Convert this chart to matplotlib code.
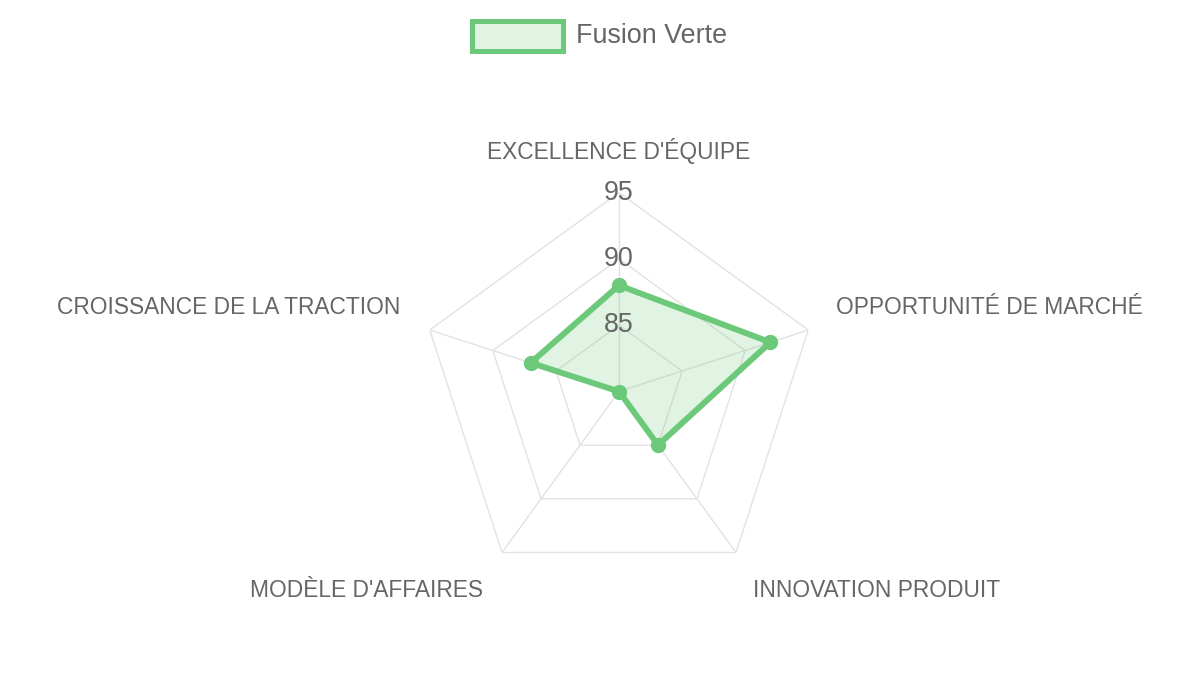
import numpy as np
import matplotlib
matplotlib.use("Agg")
import matplotlib.pyplot as plt
from matplotlib.patches import Rectangle

plt.rcParams['font.family'] = ['Liberation Sans', 'DejaVu Sans']

categories = ["EXCELLENCE D'ÉQUIPE", "OPPORTUNITÉ DE MARCHÉ", "INNOVATION PRODUIT",
              "MODÈLE D'AFFAIRES", "CROISSANCE DE LA TRACTION"]
values = [88, 92, 85, 80, 87]
series_name = "Fusion Verte"
r_min, r_max = 80, 95
ticks = [85, 90, 95]

line_color = '#6cc97a'
fill_color = (108/255, 201/255, 122/255, 0.2)
grid_color = '#e2e2e2'
text_color = '#666666'

W, H = 1200, 675
fig = plt.figure(figsize=(W/100, H/100), dpi=100)
cx, cy, R = 619, 391.5, 199
ax = fig.add_axes([(cx-R)/W, (H-cy-R)/H, 2*R/W, 2*R/H], projection='polar')
ax.set_theta_offset(np.pi/2)
ax.set_theta_direction(-1)
ax.set_ylim(r_min, r_max)
ax.grid(False)
ax.spines['polar'].set_visible(False)
ax.set_xticks([])
ax.set_yticks([])
ax.patch.set_alpha(0)

n = len(categories)
theta = np.arange(n) * 2*np.pi/n
theta_c = np.append(theta, theta[0])

# polygon grid rings
for t in ticks:
    ax.plot(theta_c, [t]*(n+1), color=grid_color, lw=1.0, zorder=1)
# spokes
for th in theta:
    ax.plot([th, th], [r_min, r_max], color=grid_color, lw=1.0, zorder=1)

vals_c = values + values[:1]
ax.fill(theta_c, vals_c, color=fill_color, zorder=2, lw=0)
ax.plot(theta_c, vals_c, color=line_color, lw=4.3, zorder=3, solid_joinstyle='miter')
ax.plot(theta, values, 'o', color=line_color, ms=10, zorder=4)

# tick labels
for t in ticks:
    ax.text(0, t, str(t), ha='center', va='center', fontsize=19.4, color=text_color, zorder=5)

# point labels
offsets = [(0, 42, 'center'), (28, 23, 'left'), (17, -38, 'left'),
           (-19, -38, 'right'), (-29, 23, 'right')]
for th, lab, (dx, dy, ha) in zip(theta, categories, offsets):
    ax.annotate(lab, xy=(th, r_max), xytext=(dx*0.72, dy*0.72), textcoords='offset points',
                ha=ha, va='center', fontsize=16.4, color=text_color, annotation_clip=False)

# legend
bx, by, bw, bh = 472, 21, 91, 30
fig.add_artist(Rectangle((bx/W, 1-(by+bh)/H), bw/W, bh/H, transform=fig.transFigure,
                         facecolor=fill_color, edgecolor=line_color, lw=3.6))
fig.text(576/W, 1-36/H, series_name, ha='left', va='center', fontsize=19.4, color=text_color)

fig.savefig('out.png', dpi=100)
